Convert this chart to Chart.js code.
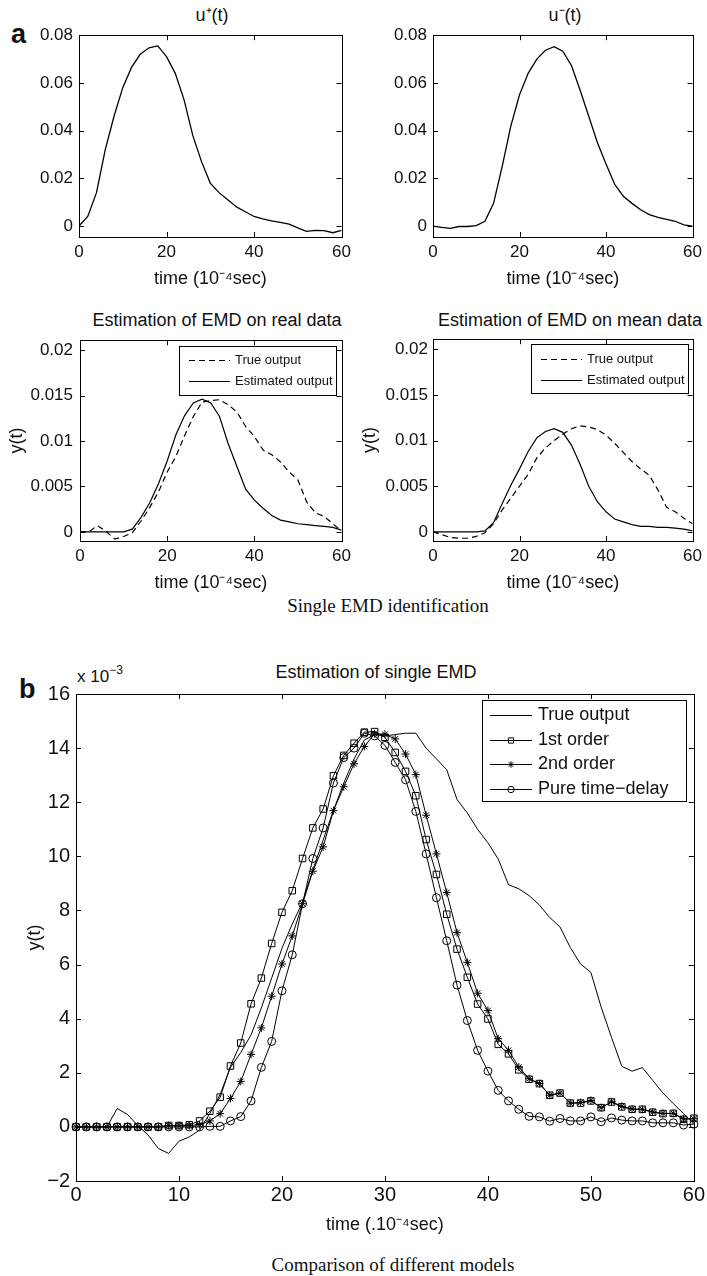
<!DOCTYPE html>
<html>
<head>
<meta charset="utf-8">
<script src="https://cdn.jsdelivr.net/npm/chart.js"></script>
<style>
  html, body { margin: 0; padding: 0; background: #fff; }
  body { width: 707px; height: 1276px; position: relative; overflow: hidden;
         font-family: "Liberation Sans", Arial, Helvetica, sans-serif; color: #111; }
  canvas { position: absolute; }
  .tag { position: absolute; font-weight: bold; font-size: 27px; line-height: 1; }
  .ttl { position: absolute; font-size: 18px; line-height: 1; white-space: nowrap; transform: translate(-50%, -50%); }
  .cap { position: absolute; font-family: "Liberation Serif", "Times New Roman", serif; font-size: 19px;
         line-height: 1; white-space: nowrap; transform: translate(-50%, -50%); }
  .exp { position: absolute; font-size: 17px; line-height: 1; white-space: nowrap; }
  .exp span { font-size: 12px; position: relative; top: -8px; }
</style>
</head>
<body>
<div class="tag" style="left:11px; top:21px">a</div>
<div class="ttl" style="left:212px; top:15px">u⁺(t)</div>
<div class="ttl" style="left:565px; top:15px">u⁻(t)</div>
<div class="ttl" style="left:217px; top:320px">Estimation of EMD on real data</div>
<div class="ttl" style="left:570px; top:320px">Estimation of EMD on mean data</div>
<div class="cap" style="left:388px; top:605px">Single EMD identification</div>
<div class="tag" style="left:19px; top:676px">b</div>
<div class="ttl" style="left:376px; top:672px">Estimation of single EMD</div>
<div class="exp" style="left:77px; top:668px">x 10<span>−3</span></div>
<div class="cap" style="left:393px; top:1264px">Comparison of different models</div>

<script>
// time axis, units of 10^-4 sec
var tCoarse = [0, 2, 4, 6, 8, 10, 12, 14, 16, 18, 20, 22, 24, 26, 28, 30,
               32, 34, 36, 38, 40, 42, 44, 46, 48, 50, 52, 54, 56, 58, 60];
var tFine = [0, 1, 2, 3, 4, 5, 6, 7, 8, 9, 10, 11, 12, 13, 14, 15, 16, 17, 18, 19, 20,
             21, 22, 23, 24, 25, 26, 27, 28, 29, 30, 31, 32, 33, 34, 35, 36, 37, 38, 39, 40,
             41, 42, 43, 44, 45, 46, 47, 48, 49, 50, 51, 52, 53, 54, 55, 56, 57, 58, 59, 60];

// panel a, top row: inputs
var uPlus = [0.0, 0.004, 0.014, 0.032, 0.046, 0.058, 0.0665, 0.072, 0.0747, 0.0755, 0.071,
             0.064, 0.053, 0.038, 0.027, 0.018, 0.014, 0.011, 0.008, 0.006, 0.004, 0.003,
             0.0022, 0.0015, 0.0008, -0.0008, -0.0022, -0.0018, -0.0019, -0.0028, -0.0018];
var uMinus = [0, -0.0006, -0.001, -0.0002, -0.0002, 0.0002, 0.002, 0.0095, 0.025, 0.042, 0.055,
              0.064, 0.070, 0.0737, 0.0752, 0.0733, 0.0673, 0.057, 0.046, 0.035, 0.026, 0.0175,
              0.0125, 0.0095, 0.0068, 0.0048, 0.0036, 0.0028, 0.002, 0.0005, 0.0];

// panel a, bottom row: outputs
var realTrue = [0, 0, 0.0007, 0.00005, -0.0008, -0.0005, -0.0001, 0.0012, 0.0027, 0.0044, 0.0066,
                0.0083, 0.0106, 0.0127, 0.0143, 0.01445, 0.01455, 0.014, 0.0132, 0.0116, 0.0105,
                0.009, 0.0085, 0.0077, 0.0066, 0.0057, 0.0033, 0.0021, 0.0017, 0.0009, 0.0001];
var realEst = [0, 0, 0, 0, 0, 0, 0.0003, 0.0016, 0.0032, 0.0053, 0.0078, 0.0107, 0.0128, 0.0142,
               0.0146, 0.0142, 0.0127, 0.0097, 0.0072, 0.0047, 0.0035, 0.0026, 0.0018, 0.0013,
               0.0011, 0.0009, 0.0008, 0.0007, 0.0006, 0.0005, 0.0002];
var meanTrue = [0, -0.0003, -0.0006, -0.0007, -0.0007, -0.0005, -0.0001, 0.0009, 0.0024, 0.0037,
                0.005, 0.0063, 0.0081, 0.0092, 0.01, 0.0107, 0.0113, 0.0116, 0.0115, 0.0112, 0.0106,
                0.0097, 0.0087, 0.0077, 0.0069, 0.0062, 0.0046, 0.0027, 0.0022, 0.0015, 0.0009];
var meanEst = [0, 0, 0, 0, 0, 0, 0.0001, 0.001, 0.0031, 0.0051, 0.0069, 0.0088, 0.0103, 0.011,
               0.0113, 0.0109, 0.0095, 0.0074, 0.005, 0.0033, 0.0022, 0.0014, 0.0011, 0.0008,
               0.0006, 0.0006, 0.0005, 0.0005, 0.0004, 0.0003, 0.0001];

// panel b, units of 10^-3
var trueOut = [0, 0, 0, 0, 0.68, 0.46, 0.05, -0.3, -0.8, -0.98, -0.53, -0.37, -0.12, 0.5, 1.2,
               2.2, 2.75, 3.4, 4.4, 5.5, 6.6, 7.5, 8.3, 9.5, 10.6, 11.7, 12.7, 13.6, 14.3, 14.5,
               14.45, 14.5, 14.55, 14.55, 14.0, 13.6, 13.2, 12.1, 11.6, 11.0, 10.5, 9.9, 8.95,
               8.8, 8.55, 8.2, 7.74, 7.39, 6.63, 6.02, 5.71, 4.42, 3.31, 2.24, 2.06, 2.19, 1.72,
               1.25, 0.86, 0.49, 0.1];
var order1 = [0, 0, 0, 0, 0, 0, 0, 0, 0, 0.05, 0.05, 0.08, 0.22, 0.58, 1.1, 2.25, 3.1, 4.55,
              5.5, 6.78, 7.93, 8.73, 9.92, 11.05, 11.75, 12.98, 13.73, 14.18, 14.59, 14.61, 14.4,
              13.84, 13.14, 12.24, 10.62, 9.33, 7.86, 6.57, 5.53, 4.54, 3.99, 3.05, 2.7, 2.11,
              1.76, 1.6, 1.17, 1.25, 0.88, 0.88, 0.96, 0.71, 0.92, 0.74, 0.65, 0.65, 0.54, 0.49,
              0.5, 0.28, 0.32];
var order2 = [0, 0, 0, 0, 0, 0, 0, 0, 0, 0.05, 0.05, 0.05, 0.08, 0.22, 0.49, 1.05, 1.68, 2.68,
              3.66, 4.83, 6.02, 7.06, 8.25, 9.45, 10.35, 11.69, 12.57, 13.42, 14.06, 14.53, 14.51,
              14.34, 13.78, 13.02, 11.52, 10.09, 8.66, 7.18, 6.08, 4.94, 4.3, 3.26, 2.83, 2.21,
              1.78, 1.6, 1.17, 1.25, 0.88, 0.9, 0.98, 0.71, 0.93, 0.76, 0.66, 0.65, 0.55, 0.5,
              0.5, 0.3, 0.3];
var delayOut = [0, 0, 0, 0, 0, 0, 0, 0, 0, 0, 0, 0, 0, 0.02, 0.02, 0.22, 0.38, 0.96, 2.2, 3.16,
                5.03, 6.36, 8.25, 9.92, 11.05, 12.71, 13.65, 14.0, 14.55, 14.45, 14.1, 13.47,
                12.83, 11.66, 10.09, 8.47, 6.88, 5.24, 3.93, 2.83, 2.06, 1.35, 0.96, 0.65, 0.39,
                0.37, 0.21, 0.31, 0.22, 0.22, 0.37, 0.19, 0.33, 0.25, 0.22, 0.22, 0.15, 0.15,
                0.15, 0.07, 0.1];

// tick labels
var xTicksA = [0, 20, 40, 60];
var xTicksB = [0, 10, 20, 30, 40, 50, 60];
var yTicksU = [0, 0.02, 0.04, 0.06, 0.08];
var yTicksY = [0, 0.005, 0.01, 0.015, 0.02];
var yTicksB = [-2, 0, 2, 4, 6, 8, 10, 12, 14, 16];

var FONT = '"Liberation Sans", Arial, Helvetica, sans-serif';
var INK = '#111';

function xy(t, v) {
    return t.map(function (x, i) { return { x: x, y: v[i] }; });
}

// matlab style box with inward ticks on all four sides
var boxAxes = {
    id: 'boxAxes',
    afterDatasetsDraw: function (chart) {
        var a = chart.chartArea, ctx = chart.ctx, len = 5;
        var sx = chart.scales.x, sy = chart.scales.y;
        ctx.save();
        ctx.strokeStyle = '#000';
        ctx.lineWidth = 1;
        ctx.beginPath();
        sx.ticks.forEach(function (t) {
            var px = Math.round(sx.getPixelForValue(t.value)) + 0.5;
            ctx.moveTo(px, a.bottom); ctx.lineTo(px, a.bottom - len);
            ctx.moveTo(px, a.top); ctx.lineTo(px, a.top + len);
        });
        sy.ticks.forEach(function (t) {
            var py = Math.round(sy.getPixelForValue(t.value)) + 0.5;
            ctx.moveTo(a.left, py); ctx.lineTo(a.left + len, py);
            ctx.moveTo(a.right, py); ctx.lineTo(a.right - len, py);
        });
        ctx.stroke();
        ctx.strokeRect(Math.round(a.left) + 0.5, Math.round(a.top) + 0.5,
                       Math.round(a.width), Math.round(a.height));
        ctx.restore();
    }
};

// legend drawn as a framed box inside the axes
var boxLegend = {
    id: 'boxLegend',
    afterDraw: function (chart, args, o) {
        if (!o || !o.width) return;
        var a = chart.chartArea, ctx = chart.ctx;
        var x0 = Math.round(a.right - o.right - o.width), y0 = Math.round(a.top + o.top);
        ctx.save();
        ctx.fillStyle = '#fff';
        ctx.fillRect(x0, y0, o.width, o.height);
        ctx.strokeStyle = '#000';
        ctx.lineWidth = 1;
        ctx.strokeRect(x0 + 0.5, y0 + 0.5, o.width, o.height);
        ctx.font = o.size + 'px ' + FONT;
        ctx.textBaseline = 'middle';
        chart.data.datasets.forEach(function (ds, i) {
            var y = Math.round(y0 + o.first + i * o.row) + 0.5;
            var xs = x0 + o.pad;
            ctx.strokeStyle = ds.borderColor;
            ctx.lineWidth = ds.borderWidth;
            ctx.setLineDash(ds.borderDash || []);
            ctx.beginPath();
            ctx.moveTo(xs, y);
            ctx.lineTo(xs + o.sample, y);
            ctx.stroke();
            ctx.setLineDash([]);
            if (ds.pointRadius > 0 && Chart.helpers && Chart.helpers.drawPoint) {
                ctx.fillStyle = 'rgba(0,0,0,0)';
                ctx.lineWidth = 1;
                Chart.helpers.drawPoint(ctx, { pointStyle: ds.pointStyle, rotation: 0,
                    radius: ds.pointRadius * 0.8, borderWidth: 1 }, xs + o.sample / 2, y);
            }
            ctx.fillStyle = INK;
            ctx.fillText(ds.label, xs + o.sample + o.gap, y);
        });
        ctx.restore();
    }
};

function numLabel(v) {
    return String(v).replace('-', '\u2212');
}

function panel(p) {
    var c = document.createElement('canvas');
    c.width = p.canvas.w;
    c.height = p.canvas.h;
    c.style.left = p.canvas.x + 'px';
    c.style.top = p.canvas.y + 'px';
    document.body.appendChild(c);

    var yAxisW = p.plot.l - p.canvas.x;
    var padTop = p.plot.t - p.canvas.y;
    var padRight = p.canvas.x + p.canvas.w - p.plot.r;
    var xAxisH = p.canvas.y + p.canvas.h - p.plot.b;

    return new Chart(c, {
        type: 'line',
        data: { datasets: p.datasets },
        options: {
            responsive: false,
            animation: false,
            events: [],
            layout: { padding: { left: 0, top: padTop, right: padRight, bottom: 0 } },
            plugins: {
                legend: { display: false },
                tooltip: { enabled: false },
                title: { display: false },
                boxLegend: p.legend || {}
            },
            scales: {
                x: {
                    type: 'linear', min: 0, max: 60,
                    grid: { display: false, drawTicks: false },
                    border: { display: false },
                    ticks: { color: INK, padding: p.xPad, maxRotation: 0,
                             font: { size: p.tickSize, family: FONT },
                             callback: numLabel },
                    title: { display: true, text: p.xTitle, color: INK, padding: 0,
                             font: { size: 18, family: FONT } },
                    afterBuildTicks: function (s) {
                        s.ticks = p.xTicks.map(function (v) { return { value: v }; });
                    },
                    afterFit: function (s) { s.height = xAxisH; }
                },
                y: {
                    type: 'linear', min: p.yMin, max: p.yMax,
                    grid: { display: false, drawTicks: false },
                    border: { display: false },
                    ticks: { color: INK, padding: p.yPad,
                             font: { size: p.tickSize, family: FONT },
                             callback: numLabel },
                    title: { display: !!p.yTitle, text: p.yTitle || '', color: INK,
                             padding: { top: p.yTitlePad || 0, bottom: 0 },
                             font: { size: 18, family: FONT } },
                    afterBuildTicks: function (s) {
                        s.ticks = p.yTicks.map(function (v) { return { value: v }; });
                    },
                    afterFit: function (s) { s.width = yAxisW; }
                }
            }
        },
        plugins: [boxAxes, boxLegend]
    });
}

function curve(label, t, v, dash, width) {
    return { label: label, data: xy(t, v), borderColor: '#000', borderWidth: width || 1.2,
             borderDash: dash || [], pointRadius: 0, tension: 0, fill: false };
}

function marked(label, t, v, style, r) {
    return { label: label, data: xy(t, v), borderColor: '#000', borderWidth: 1,
             pointStyle: style, pointRadius: r, pointBorderWidth: 1,
             pointBorderColor: '#000', pointBackgroundColor: 'rgba(0,0,0,0)',
             tension: 0, fill: false, clip: 8 };
}

panel({
    canvas: { x: 19, y: 19, w: 337, h: 271 },
    plot: { l: 79, t: 33, r: 344, b: 237 },
    datasets: [curve('u+', tCoarse, uPlus, null, 1.3)],
    xTicks: xTicksA, yTicks: yTicksU, yMin: -0.0046, yMax: 0.08,
    tickSize: 17, xPad: 5, yPad: 6, xTitle: 'time (10⁻⁴sec)'
});

panel({
    canvas: { x: 373, y: 19, w: 334, h: 271 },
    plot: { l: 433, t: 33, r: 697, b: 237 },
    datasets: [curve('u-', tCoarse, uMinus, null, 1.3)],
    xTicks: xTicksA, yTicks: yTicksU, yMin: -0.0046, yMax: 0.08,
    tickSize: 17, xPad: 5, yPad: 6, xTitle: 'time (10⁻⁴sec)'
});

panel({
    canvas: { x: 0, y: 323, w: 356, h: 271 },
    plot: { l: 80, t: 337, r: 344, b: 541 },
    datasets: [curve('True output', tCoarse, realTrue, [6, 4]),
               curve('Estimated output', tCoarse, realEst)],
    xTicks: xTicksA, yTicks: yTicksY, yMin: -0.001, yMax: 0.0211,
    tickSize: 17, xPad: 5, yPad: 7, xTitle: 'time (10⁻⁴sec)',
    yTitle: 'y(t)', yTitlePad: 6,
    legend: { right: 6, top: 6, width: 157, height: 49, first: 14, row: 21,
              pad: 10, sample: 41, gap: 5, size: 13 }
});

panel({
    canvas: { x: 353, y: 324, w: 354, h: 270 },
    plot: { l: 433, t: 338, r: 697, b: 541 },
    datasets: [curve('True output', tCoarse, meanTrue, [6, 4]),
               curve('Estimated output', tCoarse, meanEst)],
    xTicks: xTicksA, yTicks: yTicksY, yMin: -0.001, yMax: 0.0211,
    tickSize: 17, xPad: 5, yPad: 5, xTitle: 'time (10⁻⁴sec)',
    yTitle: 'y(t)', yTitlePad: 6,
    legend: { right: 5, top: 5, width: 157, height: 49, first: 15, row: 21,
              pad: 10, sample: 41, gap: 5, size: 13 }
});

panel({
    canvas: { x: 0, y: 676, w: 707, h: 560 },
    plot: { l: 76, t: 692, r: 697, b: 1181 },
    datasets: [curve('True output', tFine, trueOut, null, 1),
               marked('1st order', tFine, order1, 'rect', 4.6),
               marked('2nd order', tFine, order2, 'star', 4),
               marked('Pure time−delay', tFine, delayOut, 'circle', 4)],
    xTicks: xTicksB, yTicks: yTicksB, yMin: -2, yMax: 16,
    tickSize: 20, xPad: 2, yPad: 6, xTitle: 'time (.10⁻⁴sec)',
    yTitle: 'y(t)', yTitlePad: 24,
    legend: { right: 8, top: 6, width: 204, height: 101, first: 15, row: 24.5,
              pad: 8, sample: 42, gap: 6, size: 18 }
});
</script>
</body>
</html>
